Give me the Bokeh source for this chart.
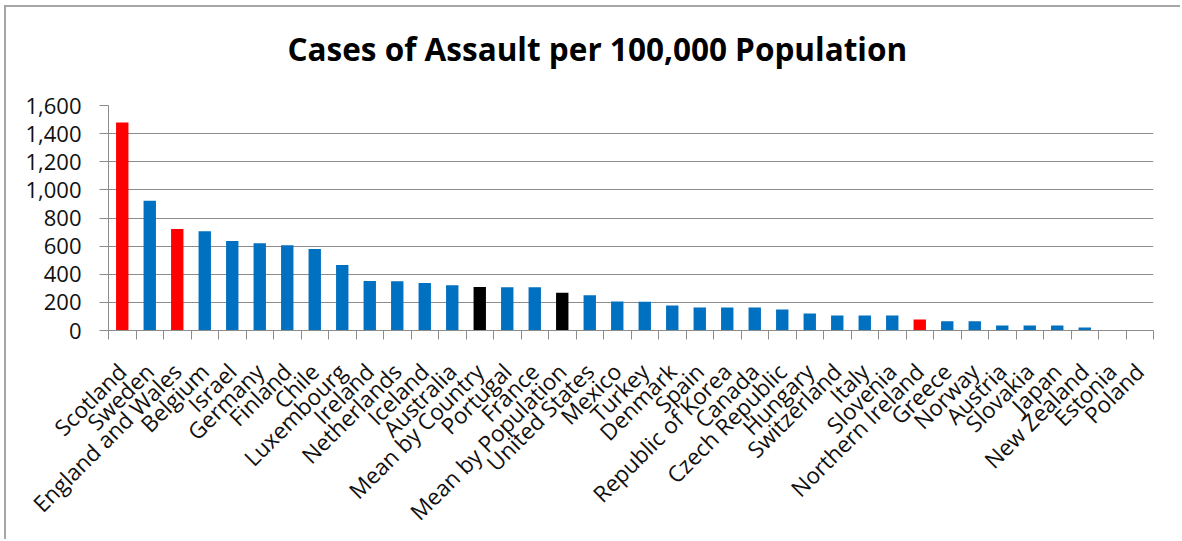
from math import pi
from bokeh.plotting import figure
from bokeh.models import ColumnDataSource, FixedTicker, NumeralTickFormatter, Range1d, Title
from bokeh.transform import factor_cmap
from bokeh.embed import file_html
from bokeh.resources import INLINE

countries = ["Scotland", "Sweden", "England and Wales", "Belgium", "Israel", "Germany",
             "Finland", "Chile", "Luxembourg", "Ireland", "Netherlands", "Iceland",
             "Australia", "Mean by Country", "Portugal", "France", "Mean by Population",
             "United States", "Mexico", "Turkey", "Denmark", "Spain", "Republic of Korea",
             "Canada", "Czech Republic", "Hungary", "Switzerland", "Italy", "Slovenia",
             "Northern Ireland", "Greece", "Norway", "Austria", "Slovakia", "Japan",
             "New Zealand", "Estonia", "Poland"]
assaults = [1480, 922, 722, 706, 636, 621, 607, 579, 465, 352, 350, 337, 322, 310, 308,
            307, 268, 251, 206, 205, 178, 164, 163, 163, 150, 121, 107, 106, 106, 78, 66,
            65, 36, 35, 35, 21, 0, 0]
groups = ["UK", "Country", "UK", "Country", "Country", "Country", "Country", "Country",
          "Country", "Country", "Country", "Country", "Country", "Mean", "Country",
          "Country", "Mean", "Country", "Country", "Country", "Country", "Country",
          "Country", "Country", "Country", "Country", "Country", "Country", "Country",
          "UK", "Country", "Country", "Country", "Country", "Country", "Country",
          "Country", "Country"]
y_ticks = [0, 200, 400, 600, 800, 1000, 1200, 1400, 1600]
title_text = "Cases of Assault per 100,000 Population"

FONT = "Open Sans"
GRID = "#8c8c8c"

pos = list(range(len(countries)))
source = ColumnDataSource(dict(x=pos, value=assaults, group=groups, name=countries))

p = figure(width=1176, height=534, output_backend="svg", toolbar_location=None,
           x_range=Range1d(-0.5, len(countries) - 0.5), y_range=Range1d(0, 1600),
           min_border_left=102, min_border_right=29, min_border_bottom=211,
           min_border_top=98)
p.title = None
p.styles = {"border-left": "2px solid #a6a6a6", "border-top": "2px solid #a6a6a6",
            "margin-left": "4px", "margin-top": "5px"}

p.vbar(x="x", top="value", width=0.45, source=source, line_color=None,
       fill_color=factor_cmap("group", palette=["#FF0000", "#000000", "#0070C0"],
                              factors=["UK", "Mean", "Country"]))

# blank spacer between the chart title and the plot area
spacer = Title(text=" ", text_font=FONT, text_font_size="22px", standoff=0)
p.add_layout(spacer, "above")
title = Title(text=title_text, align="left", offset=179,
              text_font=FONT, text_font_size="31.5px", text_font_style="bold",
              text_color="#000000", standoff=8)
p.add_layout(title, "above")

p.outline_line_color = None
p.background_fill_color = "white"
p.border_fill_color = "white"

# y axis
p.yaxis.ticker = FixedTicker(ticks=y_ticks)
p.yaxis.formatter = NumeralTickFormatter(format="0,0")
p.yaxis.major_tick_out = 9
p.yaxis.major_tick_in = 0
p.yaxis.minor_tick_out = 0
p.yaxis.minor_tick_in = 0
p.yaxis.major_label_standoff = 18
p.yaxis.axis_line_color = GRID
p.yaxis.major_tick_line_color = GRID
p.yaxis.major_label_text_font = FONT
p.yaxis.major_label_text_font_size = "22px"
p.yaxis.major_label_text_color = "#111111"

# x axis
p.xaxis.ticker = FixedTicker(ticks=pos, minor_ticks=[i - 0.5 for i in range(len(countries) + 1)])
p.xaxis.major_label_overrides = {i: c for i, c in zip(pos, countries)}
p.xaxis.major_label_orientation = pi / 4
p.xaxis.major_tick_out = 0
p.xaxis.major_tick_in = 0
p.xaxis.minor_tick_out = 9
p.xaxis.minor_tick_in = 0
p.xaxis.minor_tick_line_color = GRID
p.xaxis.axis_line_color = GRID
p.xaxis.major_label_standoff = 28
p.xaxis.major_label_text_font = FONT
p.xaxis.major_label_text_font_size = "22.5px"
p.xaxis.major_label_text_color = "#111111"

p.xgrid.visible = False
p.ygrid.ticker = FixedTicker(ticks=y_ticks)
p.ygrid.grid_line_color = GRID
p.ygrid.grid_line_width = 1

open("out.html", "w").write(file_html(p, INLINE))
